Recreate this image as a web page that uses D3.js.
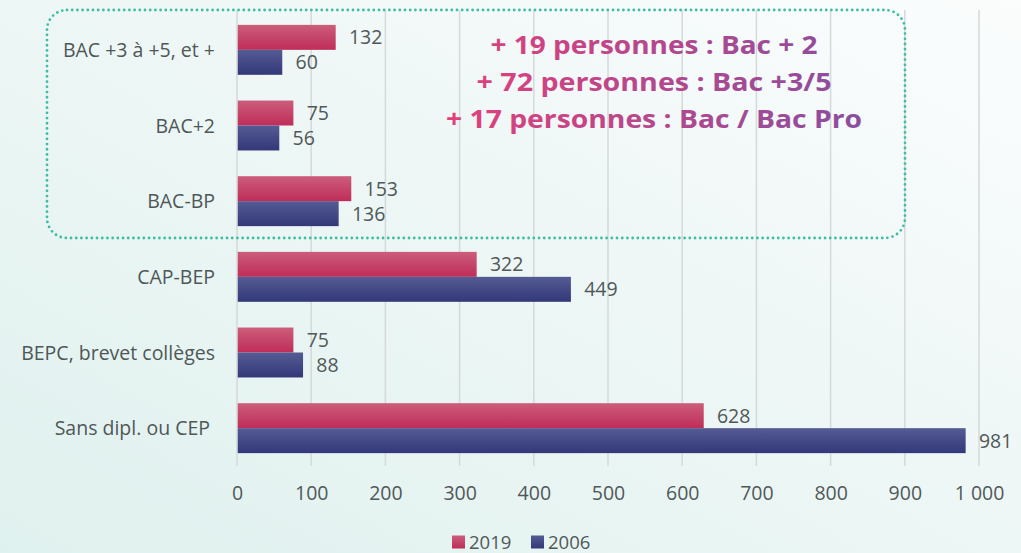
<!DOCTYPE html>
<html>
<head>
<meta charset="utf-8">
<script src="https://cdn.jsdelivr.net/npm/d3@7"></script>
<style>
  html, body { margin: 0; padding: 0; background: #ffffff; }
  svg { display: block; }
  text { font-family: "Open Sans", "Liberation Sans", sans-serif; }
</style>
</head>
<body>
<svg id="chart" width="1021" height="553"></svg>
<script>
// Diploma levels, top to bottom
const categories = [
  "BAC +3 à +5, et +",
  "BAC+2",
  "BAC-BP",
  "CAP-BEP",
  "BEPC, brevet collèges",
  "Sans dipl. ou CEP"
];
const values2019 = [132, 75, 153, 322, 75, 628];
const values2006 = [60, 56, 136, 449, 88, 981];
const seriesNames = ["2019", "2006"];
const xTicks = [0, 100, 200, 300, 400, 500, 600, 700, 800, 900, 1000];
const notes = [
  "+ 19 personnes : Bac + 2",
  "+ 72 personnes : Bac +3/5",
  "+ 17 personnes : Bac / Bac Pro"
];

const W = 1021, H = 553;
const svg = d3.select("#chart");
const defs = svg.append("defs");

// background wash
const bg = defs.append("linearGradient").attr("id", "bg")
  .attr("x1", "0%").attr("y1", "100%").attr("x2", "100%").attr("y2", "0%");
bg.append("stop").attr("offset", "0%").attr("stop-color", "#dff1ee");
bg.append("stop").attr("offset", "55%").attr("stop-color", "#eef7f6");
bg.append("stop").attr("offset", "100%").attr("stop-color", "#fbfdfd");
svg.append("rect").attr("width", W).attr("height", H).attr("fill", "url(#bg)");

// bar fills
function vGrad(id, top, bottom) {
  const g = defs.append("linearGradient").attr("id", id)
    .attr("x1", "0%").attr("y1", "0%").attr("x2", "0%").attr("y2", "100%");
  g.append("stop").attr("offset", "0%").attr("stop-color", top);
  g.append("stop").attr("offset", "100%").attr("stop-color", bottom);
}
vGrad("g2019", "#cc5d7b", "#bf2d59");
vGrad("g2006", "#555b93", "#333879");
const fills = ["url(#g2019)", "url(#g2006)"];

const x = d3.scaleLinear().domain([0, 1000]).range([237, 979]);
const y = d3.scaleBand().domain(categories).range([12, 466]).paddingInner(0.34).paddingOuter(0.17);
const ySub = d3.scaleBand().domain(seriesNames).range([0, y.bandwidth()]);
const fmt = v => d3.format(",")(v).replace(/,/g, " ");
const FS = 19.5;

// vertical gridlines
svg.append("g").selectAll("line").data(xTicks).join("line")
  .attr("x1", d => x(d)).attr("x2", d => x(d))
  .attr("y1", 10).attr("y2", 466)
  .attr("stroke", "#d6d9d9").attr("stroke-width", 1.5);

// bars and value labels
const series = [values2019, values2006];
const groups = svg.append("g").selectAll("g").data(categories).join("g")
  .attr("transform", d => `translate(0,${y(d)})`);

seriesNames.forEach((s, si) => {
  groups.append("rect")
    .attr("x", x(0) + 0.75)
    .attr("y", ySub(s))
    .attr("width", (d, i) => x(series[si][i]) - x(0))
    .attr("height", ySub.bandwidth())
    .attr("fill", fills[si]);
  groups.append("text")
    .attr("x", (d, i) => x(series[si][i]) + 14)
    .attr("y", ySub(s) + ySub.bandwidth() / 2)
    .attr("dy", "0.36em")
    .attr("font-size", FS)
    .attr("fill", "#505858")
    .text((d, i) => fmt(series[si][i]));
});

// category labels
svg.append("g").selectAll("text").data(categories).join("text")
  .attr("x", d => d.startsWith("Sans") ? 210 : 215)
  .attr("y", d => y(d) + y.bandwidth() / 2)
  .attr("dy", "0.36em")
  .attr("text-anchor", "end")
  .attr("font-size", FS)
  .attr("fill", "#4f5757")
  .text(d => d);

// x axis labels
const xAxis = d3.axisBottom(x).tickValues(xTicks).tickSize(0).tickPadding(0).tickFormat(fmt);
const ax = svg.append("g").attr("transform", "translate(0,486)").call(xAxis);
ax.select(".domain").remove();
ax.selectAll("text").attr("font-size", FS).attr("fill", "#505858")
  .attr("font-family", "'Open Sans', sans-serif");

// legend
const legend = svg.append("g");
const legX = [452, 531];
seriesNames.forEach((s, i) => {
  legend.append("rect").attr("x", legX[i]).attr("y", 535.5).attr("width", 13).attr("height", 13)
    .attr("fill", fills[i]);
  legend.append("text").attr("x", legX[i] + 17).attr("y", 548.5)
    .attr("font-size", 18.5).attr("fill", "#505858").text(s);
});

// dotted frame around the upper diplomas
svg.append("rect")
  .attr("x", 47).attr("y", 10).attr("width", 858).attr("height", 228)
  .attr("rx", 20).attr("ry", 20)
  .attr("fill", "none")
  .attr("stroke", "#3dbda3").attr("stroke-width", 2.8)
  .attr("stroke-linecap", "round").attr("stroke-dasharray", "0 5.2");

// annotation text
const tg = defs.append("linearGradient").attr("id", "noteGrad")
  .attr("gradientUnits", "userSpaceOnUse")
  .attr("x1", 446).attr("y1", 0).attr("x2", 862).attr("y2", 0);
tg.append("stop").attr("offset", "0%").attr("stop-color", "#e2407a");
tg.append("stop").attr("offset", "100%").attr("stop-color", "#8a4e9f");

const noteWidths = [327, 355, 416];
const noteBase = [54, 91, 128];
svg.append("g").selectAll("text").data(notes).join("text")
  .attr("x", 654)
  .attr("y", (d, i) => noteBase[i])
  .attr("text-anchor", "middle")
  .attr("font-size", 24.5)
  .attr("font-weight", 700)
  .attr("textLength", (d, i) => noteWidths[i])
  .attr("lengthAdjust", "spacingAndGlyphs")
  .attr("fill", "url(#noteGrad)")
  .text(d => d);
</script>
</body>
</html>
